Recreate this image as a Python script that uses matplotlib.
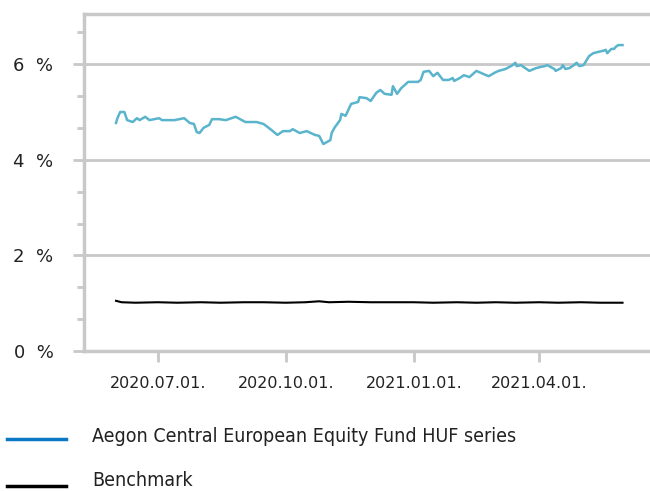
import matplotlib
matplotlib.use("Agg")
import matplotlib.pyplot as plt
from matplotlib.lines import Line2D
from matplotlib.ticker import FixedLocator
import pandas as pd

# fund series
fund_dates = [
    "2020-06-01", "2020-06-02", "2020-06-04", "2020-06-07", "2020-06-09", "2020-06-13",
    "2020-06-16", "2020-06-18", "2020-06-22", "2020-06-25", "2020-07-02", "2020-07-04",
    "2020-07-13", "2020-07-20", "2020-07-24", "2020-07-27", "2020-07-29", "2020-07-31",
    "2020-08-03", "2020-08-07", "2020-08-09", "2020-08-14", "2020-08-19", "2020-08-26",
    "2020-09-02", "2020-09-10", "2020-09-15", "2020-09-20", "2020-09-25", "2020-09-29",
    "2020-10-04", "2020-10-06", "2020-10-11", "2020-10-16", "2020-10-22", "2020-10-25",
    "2020-10-28", "2020-11-02", "2020-11-03", "2020-11-05", "2020-11-09", "2020-11-10",
    "2020-11-13", "2020-11-17", "2020-11-22", "2020-11-23", "2020-11-28", "2020-12-01",
    "2020-12-05", "2020-12-08", "2020-12-11", "2020-12-16", "2020-12-17", "2020-12-20",
    "2020-12-23", "2020-12-28", "2021-01-04", "2021-01-06", "2021-01-08", "2021-01-12",
    "2021-01-15", "2021-01-18", "2021-01-22", "2021-01-26", "2021-01-29", "2021-01-30",
    "2021-02-03", "2021-02-06", "2021-02-10", "2021-02-15", "2021-02-22", "2021-02-24",
    "2021-02-28", "2021-03-03", "2021-03-08", "2021-03-13", "2021-03-15", "2021-03-16",
    "2021-03-19", "2021-03-22", "2021-03-25", "2021-03-30", "2021-04-05", "2021-04-07",
    "2021-04-12", "2021-04-13", "2021-04-17", "2021-04-18", "2021-04-20", "2021-04-23",
    "2021-04-26", "2021-04-28", "2021-04-30", "2021-05-03", "2021-05-07", "2021-05-10",
    "2021-05-14", "2021-05-17", "2021-05-19", "2021-05-20", "2021-05-23", "2021-05-25",
    "2021-05-26", "2021-05-28", "2021-05-31",
]
fund_values = [
    4.77, 4.87, 5.00, 5.00, 4.83, 4.79,
    4.87, 4.83, 4.90, 4.83, 4.87, 4.83,
    4.83, 4.87, 4.77, 4.75, 4.58, 4.56,
    4.67, 4.73, 4.85, 4.85, 4.83, 4.90,
    4.79, 4.79, 4.75, 4.64, 4.52, 4.60,
    4.60, 4.64, 4.56, 4.60, 4.52, 4.50,
    4.33, 4.41, 4.56, 4.67, 4.83, 4.96,
    4.92, 5.17, 5.21, 5.31, 5.29, 5.23,
    5.40, 5.46, 5.38, 5.36, 5.54, 5.38,
    5.50, 5.63, 5.63, 5.67, 5.84, 5.86,
    5.75, 5.82, 5.67, 5.67, 5.71, 5.65,
    5.71, 5.77, 5.73, 5.86, 5.77, 5.75,
    5.82, 5.86, 5.90, 5.98, 6.03, 5.96,
    5.98, 5.92, 5.86, 5.92, 5.96, 5.98,
    5.90, 5.86, 5.92, 5.98, 5.90, 5.92,
    5.98, 6.03, 5.96, 5.98, 6.17, 6.23,
    6.26, 6.28, 6.30, 6.23, 6.32, 6.32,
    6.36, 6.40, 6.40,
]

bench_dates = [
    "2020-06-01", "2020-06-05", "2020-06-15", "2020-07-01", "2020-07-15", "2020-08-01",
    "2020-08-15", "2020-09-01", "2020-09-15", "2020-10-01", "2020-10-15", "2020-10-25",
    "2020-11-01", "2020-11-15", "2020-12-01", "2020-12-15", "2021-01-01", "2021-01-15",
    "2021-02-01", "2021-02-15", "2021-03-01", "2021-03-15", "2021-04-01", "2021-04-15",
    "2021-05-01", "2021-05-15", "2021-05-31",
]
bench_values = [
    1.05, 1.02, 1.01, 1.02, 1.01, 1.02,
    1.01, 1.02, 1.02, 1.01, 1.02, 1.04,
    1.02, 1.03, 1.02, 1.02, 1.02, 1.01,
    1.02, 1.01, 1.02, 1.01, 1.02, 1.01,
    1.02, 1.01, 1.01,
]

x_tick_dates = ["2020-07-01", "2020-10-01", "2021-01-01", "2021-04-01"]
x_tick_labels = ["2020.07.01.", "2020.10.01.", "2021.01.01.", "2021.04.01."]
y_ticks = [0, 2, 4, 6]
y_tick_labels = ["0  %", "2  %", "4  %", "6  %"]

fund_color = "#5ab4cc"
legend_fund_color = "#0a78c4"
grid_color = "#c8c8c8"

fig = plt.figure(figsize=(6.5, 4.91), dpi=100)
ax = fig.add_axes([84 / 650, 140 / 491, 590 / 650, 337 / 491])

ax.plot(pd.to_datetime(fund_dates), fund_values, color=fund_color, lw=1.8)
ax.plot(pd.to_datetime(bench_dates), bench_values, color="black", lw=1.5)

ax.set_xlim(pd.Timestamp("2020-05-09"), pd.Timestamp("2021-07-07"))
ax.set_ylim(0, 7.05)

ax.set_yticks(y_ticks)
ax.set_yticklabels(y_tick_labels)
ax.yaxis.set_minor_locator(FixedLocator([2 / 3, 4 / 3, 8 / 3, 10 / 3, 14 / 3, 16 / 3, 20 / 3]))
ax.set_xticks(pd.to_datetime(x_tick_dates))
ax.set_xticklabels(x_tick_labels)

ax.grid(axis="y", color=grid_color, lw=2)
ax.set_axisbelow(True)
for side in ["left", "top", "bottom"]:
    ax.spines[side].set_color(grid_color)
    ax.spines[side].set_linewidth(2.5)
ax.spines["right"].set_visible(False)

ax.tick_params(axis="y", which="major", length=8, width=2, color=grid_color,
               labelsize=13, labelcolor="#222222", pad=14)
ax.tick_params(axis="y", which="minor", length=5, width=2, color=grid_color)
ax.tick_params(axis="x", length=8, width=2, color=grid_color,
               labelsize=11.5, labelcolor="#222222", pad=10)

# legend, drawn below the axes
fig.add_artist(Line2D([7 / 650, 66 / 650], [1 - 439 / 491] * 2, color=legend_fund_color, lw=2.5))
fig.text(92 / 650, 1 - 437 / 491, "Aegon Central European Equity Fund HUF series",
         va="center", ha="left", fontsize=14, fontstretch="condensed", color="#222222")
fig.add_artist(Line2D([7 / 650, 66 / 650], [1 - 486 / 491] * 2, color="black", lw=2.5))
fig.text(92 / 650, 1 - 480 / 491, "Benchmark",
         va="center", ha="left", fontsize=14, fontstretch="condensed", color="#222222")

fig.savefig("out.png", dpi=100)
